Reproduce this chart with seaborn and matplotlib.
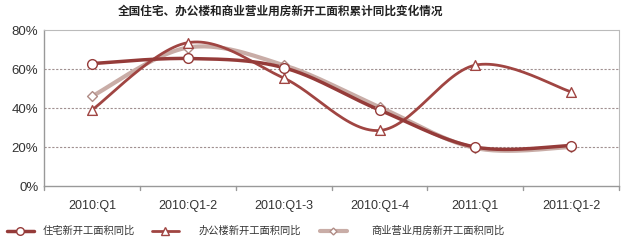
import numpy as np
import pandas as pd
import matplotlib
matplotlib.use("Agg")
import matplotlib.pyplot as plt
import seaborn as sns
from matplotlib.lines import Line2D

categories = ["2010:Q1", "2010:Q1-2", "2010:Q1-3", "2010:Q1-4", "2011:Q1", "2011:Q1-2"]
residential = [62.8, 65.4, 60.7, 39.0, 20.0, 20.8]
office = [39.0, 73.5, 55.4, 28.5, 62.0, 48.3]
commercial = [46.0, 71.0, 62.0, 40.5, 19.5, 20.0]
series_names = ["住宅新开工面积同比", "办公楼新开工面积同比", "商业营业用房新开工面积同比"]
title = "全国住宅、办公楼和商业营业用房新开工面积累计同比变化情况"

sns.set_theme(style="white")
plt.rcParams["font.family"] = ["Noto Sans CJK SC", "DejaVu Sans"]

colors = ["#953B39", "#A04542", "#C9ADA7"]
markers = ["o", "^", "D"]
msizes = [7, 7, 5]
lws = [2.5, 2.0, 3.0]


def smooth(x, y, n=30):
    x = np.asarray(x, float); y = np.asarray(y, float)
    px = np.concatenate([[x[0]], x, [x[-1]]])
    py = np.concatenate([[y[0]], y, [y[-1]]])
    xs, ys = [], []
    t = np.linspace(0, 1, n)
    for i in range(1, len(px) - 2):
        p0 = np.array([px[i], py[i]]); p3 = np.array([px[i + 1], py[i + 1]])
        c1 = p0 + (np.array([px[i + 1], py[i + 1]]) - np.array([px[i - 1], py[i - 1]])) / 6
        c2 = p3 - (np.array([px[i + 2], py[i + 2]]) - np.array([px[i], py[i]])) / 6
        b = ((1 - t)[:, None] ** 3 * p0 + 3 * (1 - t)[:, None] ** 2 * t[:, None] * c1
             + 3 * (1 - t)[:, None] * t[:, None] ** 2 * c2 + t[:, None] ** 3 * p3)
        xs.extend(b[:, 0]); ys.extend(b[:, 1])
    return np.array(xs), np.array(ys)


fig = plt.figure(figsize=(6.28, 2.42), dpi=100)
ax = fig.add_axes([0.070, 0.231, 0.916, 0.645])

xpos = np.arange(len(categories))
all_series = [residential, office, commercial]
for idx in [2, 1, 0]:
    vals = all_series[idx]
    sx, sy = smooth(xpos, vals)
    df_line = pd.DataFrame({"x": sx, "y": sy})
    sns.lineplot(data=df_line, x="x", y="y", ax=ax, color=colors[idx], lw=lws[idx],
                 sort=False, estimator=None, zorder=2 + (2 - idx))
for idx in [2, 1, 0]:
    vals = all_series[idx]
    df_pts = pd.DataFrame({"x": xpos, "y": vals})
    ax.scatter(df_pts["x"], df_pts["y"], marker=markers[idx], s=msizes[idx] ** 2,
               facecolor="white", edgecolor=colors[idx] if idx < 2 else "#B08C86", linewidth=1.0, zorder=6)

ax.set_xlim(-0.5, len(categories) - 0.5)
ax.set_ylim(0, 80)
ax.set_yticks([0, 20, 40, 60, 80])
ax.set_yticklabels([f"{v}%" for v in [0, 20, 40, 60, 80]], fontsize=9.5, color="#333333",
                   family=["Liberation Sans", "DejaVu Sans"])
ax.set_xticks(xpos)
ax.set_xticklabels(categories, fontsize=9, color="#333333", family=["Liberation Sans", "DejaVu Sans"])
ax.tick_params(axis="x", length=0, pad=10)
ax.tick_params(axis="y", length=0, pad=4)
for b in np.arange(-0.5, len(categories), 1.0):
    ax.plot([b, b], [0, -1.8], color="#999999", lw=1, clip_on=False, zorder=1)
for g in [20, 40, 60]:
    ax.axhline(g, color="#A09090", lw=0.8, ls=(0, (2, 1.5)), zorder=1)
ax.set_xlabel(""); ax.set_ylabel("")
for side in ["left", "bottom"]:
    ax.spines[side].set_color("#999999"); ax.spines[side].set_linewidth(1.0)
for side in ["top", "right"]:
    ax.spines[side].set_color("#BBBBBB"); ax.spines[side].set_linewidth(0.8)
    ax.spines[side].set_linestyle((0, (1, 1)))

fig.text(0.446, 0.955, title, ha="center", va="center", fontsize=8.4, fontweight="bold", color="#222222")

leg_x = [7, 152, 320]
leg_pad = [0.9, 1.9, 2.4]
for i in range(3):
    h = Line2D([0], [0], color=colors[i], lw=lws[i], marker=markers[i], markersize=msizes[i] - 1.5,
               markerfacecolor="white", markeredgecolor=colors[i] if i < 2 else "#B08C86")
    fig.legend([h], [series_names[i]], loc="center left", bbox_to_anchor=(leg_x[i] / 628, 0.045),
               frameon=False, fontsize=7.4, handlelength=2.6, handletextpad=leg_pad[i],
               borderpad=0, borderaxespad=0, labelcolor="#333333")

fig.savefig("out.png", dpi=100)
